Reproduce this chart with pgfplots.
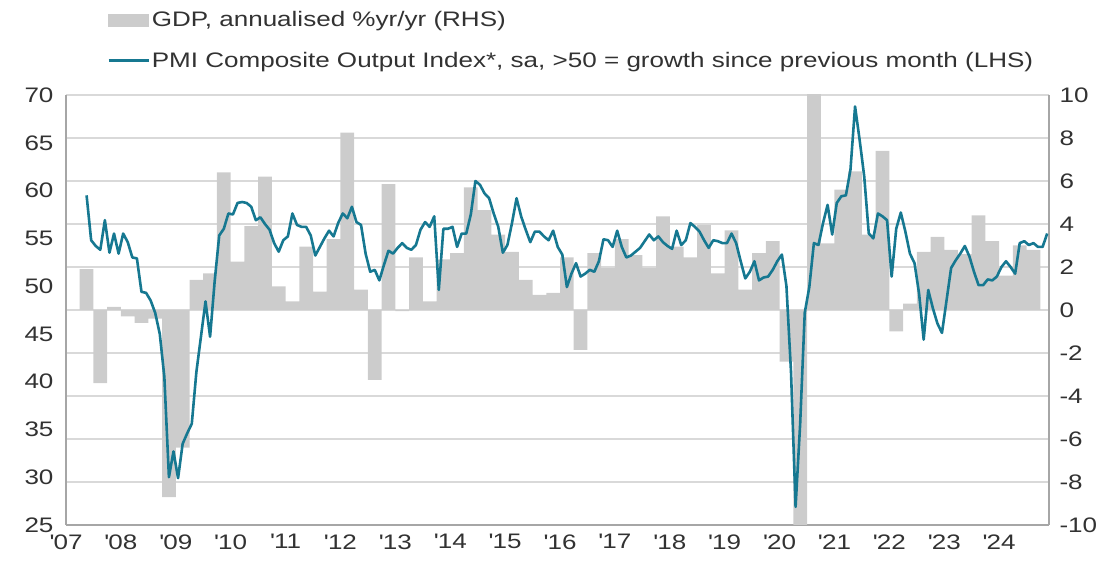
\documentclass[border=0pt]{standalone}
\usepackage{fontspec}
\setmainfont{Liberation Sans}[FakeStretch=1.24]
\usepackage{pgfplots}
\usepackage{pgfplotstable}
\pgfplotsset{compat=1.18}

\definecolor{pmiteal}{RGB}{22,120,145}
\definecolor{gdpgray}{RGB}{204,204,204}
\definecolor{gridgray}{RGB}{217,217,217}
\definecolor{axgray}{RGB}{166,166,166}
\definecolor{labgray}{RGB}{50,50,50}

% monthly PMI, m = months since Jan 2007
\pgfplotstableread{
m pmi
4 59.5
5 54.8
6 54.2
7 53.8
8 56.9
9 53.5
10 55.5
11 53.4
12 55.5
13 54.6
14 53.0
15 52.9
16 49.4
17 49.3
18 48.5
19 47.2
20 45.0
21 40.5
22 30.0
23 32.7
24 29.9
25 33.5
26 34.6
27 35.6
28 41.0
29 44.7
30 48.4
31 44.7
32 50.5
33 55.3
34 56.0
35 57.6
36 57.5
37 58.7
38 58.8
39 58.7
40 58.3
41 56.9
42 57.2
43 56.5
44 55.9
45 54.5
46 53.6
47 54.8
48 55.2
49 57.6
50 56.4
51 56.2
52 56.2
53 55.3
54 53.2
55 54.1
56 55.0
57 55.8
58 55.2
59 56.6
60 57.6
61 57.1
62 58.3
63 56.7
64 56.4
65 53.4
66 51.5
67 51.7
68 50.6
69 52.2
70 53.7
71 53.4
72 54.0
73 54.5
74 54.0
75 53.8
76 54.3
77 55.9
78 56.7
79 56.2
80 57.3
81 49.6
82 56.0
83 56.0
84 56.2
85 54.1
86 55.5
87 55.5
88 57.5
89 61.0
90 60.6
91 59.7
92 59.2
93 57.6
94 56.2
95 53.5
96 54.3
97 56.6
98 59.2
99 57.3
100 55.9
101 54.6
102 55.7
103 55.7
104 55.2
105 54.8
106 55.8
107 54.1
108 53.3
109 49.9
110 51.3
111 52.4
112 51.0
113 51.3
114 51.7
115 51.5
116 52.6
117 54.9
118 54.8
119 54.1
120 55.8
121 54.1
122 53.0
123 53.2
124 53.6
125 54.0
126 54.7
127 55.4
128 54.8
129 55.2
130 54.6
131 54.2
132 53.9
133 55.8
134 54.3
135 54.8
136 56.6
137 56.2
138 55.7
139 54.8
140 54.0
141 54.8
142 54.7
143 54.5
144 54.5
145 55.5
146 54.5
147 52.6
148 50.8
149 51.5
150 52.6
151 50.6
152 50.9
153 51.0
154 51.7
155 52.6
156 53.3
157 50.0
158 41.0
159 26.9
160 35.6
161 47.2
162 49.9
163 54.5
164 54.3
165 56.6
166 58.5
167 55.4
168 58.7
169 59.4
170 59.5
171 62.2
172 68.8
173 65.3
174 61.5
175 55.5
176 55.0
177 57.6
178 57.3
179 56.9
180 51.0
181 56.0
182 57.7
183 55.7
184 53.4
185 52.4
186 49.2
187 44.4
188 49.6
189 47.7
190 46.1
191 45.1
192 48.5
193 51.9
194 52.7
195 53.4
196 54.2
197 53.1
198 51.5
199 50.1
200 50.1
201 50.7
202 50.6
203 51.0
204 52.0
205 52.6
206 52.0
207 51.3
208 54.5
209 54.7
210 54.3
211 54.5
212 54.1
213 54.1
214 55.5
}\pmidata

% quarterly GDP, q = quarters since Q1 2007
\pgfplotstableread{
q gdp
1 1.9
2 -3.4
3 0.15
4 -0.3
5 -0.6
6 -0.4
7 -8.7
8 -6.4
9 1.4
10 1.7
11 6.4
12 2.25
13 3.9
14 6.2
15 1.1
16 0.4
17 2.95
18 0.85
19 3.3
20 8.25
21 0.95
22 -3.25
23 5.85
24 -0.05
25 2.45
26 0.4
27 2.35
28 2.65
29 5.7
30 4.65
31 3.5
32 2.7
33 1.4
34 0.7
35 0.8
36 2.45
37 -1.85
38 2.65
39 1.95
40 3.3
41 2.55
42 1.95
43 4.35
44 2.95
45 2.45
46 3.95
47 1.7
48 3.7
49 0.95
50 2.65
51 3.2
52 -2.4
53 -12
54 12
55 3.1
56 5.6
57 6.45
58 3.5
59 7.4
60 -1.0
61 0.3
62 2.7
63 3.4
64 2.8
65 2.6
66 4.4
67 3.2
68 1.6
69 3.0
70 2.8
}\gdpdata

\newcommand{\yr}[1]{\textquotesingle#1}

\begin{document}
\begin{tikzpicture}
\pgfplotsset{
  every axis/.append style={
    width=983pt, height=430pt, scale only axis,
    xmin=0, xmax=214.9,
    tick label style={font=\fontsize{21}{25}\selectfont, text=labgray},
    major tick length=0pt,
    axis line style={draw=axgray, line width=1.8pt, -},
  }
}
\begin{axis}[
  ymin=-10, ymax=10,
  axis x line*=bottom, axis y line*=right,
  xtick={0,12,...,204},
  xticklabels={\yr{07},\yr{08},\yr{09},\yr{10},\yr{11},\yr{12},\yr{13},\yr{14},\yr{15},\yr{16},\yr{17},\yr{18},\yr{19},\yr{20},\yr{21},\yr{22},\yr{23},\yr{24}},
  xticklabel style={yshift=-6pt},
  ytick={-10,-8,...,10},
  yticklabels={-10,-8,-6,-4,-2,0,2,4,6,8,10},
  yticklabel style={xshift=7pt},
  ymajorgrids, grid style={draw=gridgray, line width=1.3pt},
  ybar, bar width=3,
]
\addplot[fill=gdpgray, draw=none] table[x expr=3*\thisrow{q}+1.5, y=gdp]{\gdpdata};
\coordinate (pa) at (rel axis cs:0,0);
\coordinate (pb) at (rel axis cs:1,1);
\end{axis}

\begin{axis}[
  ymin=25, ymax=70,
  axis x line=none, axis y line*=left,
  ytick={25,30,...,70},
  yticklabel style={xshift=-9pt},
  /pgf/number format/assume math mode=true,
  legend cell align=left,
  legend style={at={(rel axis cs:0,1)}, anchor=south west, xshift=41pt, yshift=24pt,
    draw=none, fill=none, inner sep=0pt, row sep=20pt,
    font=\fontsize{21}{25}\selectfont, text=labgray},
]
\addlegendimage{legend image code/.code={\fill[gdpgray] (0pt,-6pt) rectangle (40pt,6pt);}}
\addlegendentry{GDP, annualised \%yr/yr (RHS)}
\addplot[pmiteal, line width=2.6pt, line join=round, mark=none,
  legend image code/.code={\draw[pmiteal, line width=2.6pt] (0pt,0pt) -- (40pt,0pt);}]
  table[x expr=\thisrow{m}+0.5, y=pmi]{\pmidata};
\addlegendentry{PMI Composite Output Index*, sa, >50 = growth since previous month (LHS)}
\end{axis}

\pgfresetboundingbox
\path[use as bounding box] ([shift={(-66pt,-42pt)}]pa) rectangle ([shift={(64pt,95pt)}]pb);
\end{tikzpicture}
\end{document}
